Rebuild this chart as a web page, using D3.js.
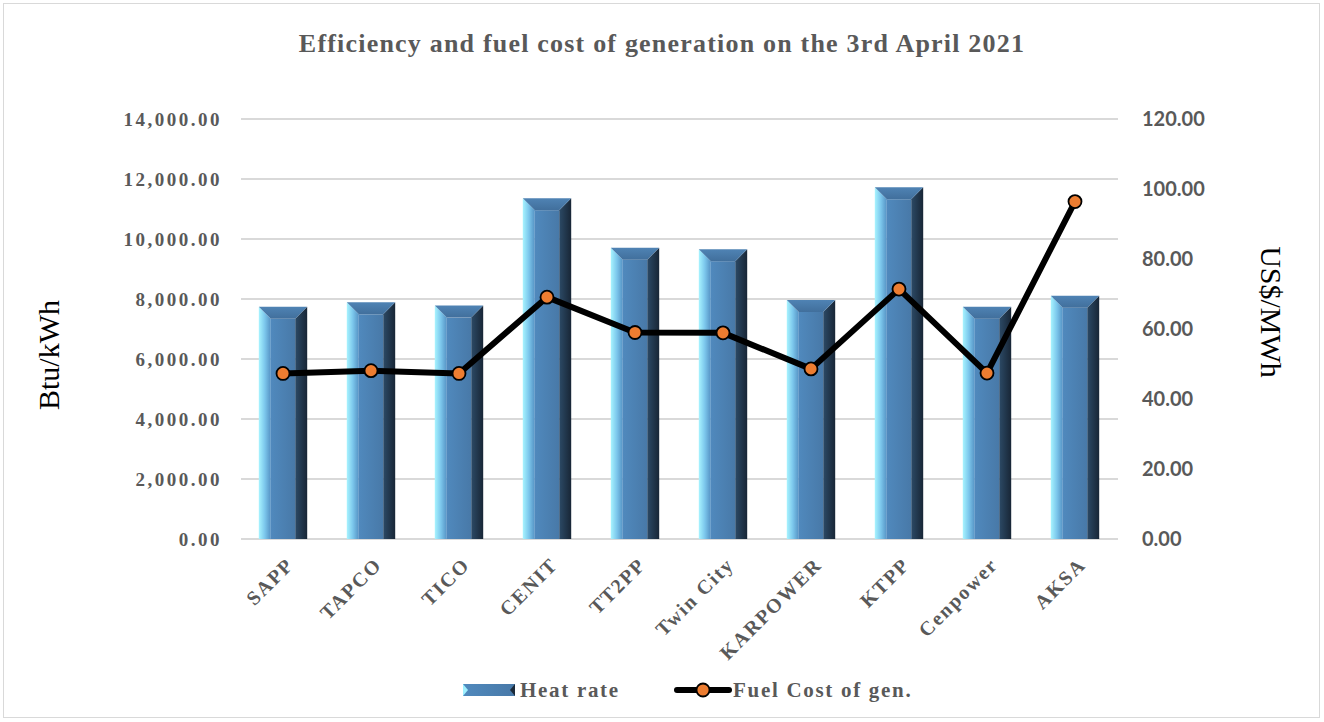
<!DOCTYPE html>
<html><head><meta charset="utf-8">
<script src="https://cdn.jsdelivr.net/npm/d3@7"></script>
<style>
body{margin:0;background:#fff;}
svg{display:block;}
</style></head>
<body>
<svg id="chart" width="1324" height="722"></svg>
<script>
const categories = ["SAPP","TAPCO","TICO","CENIT","TT2PP","Twin City","KARPOWER","KTPP","Cenpower","AKSA"];
const heatRate = [7740, 7890, 7780, 11360, 9710, 9660, 7970, 11725, 7745, 8110];
const fuelCost = [47.3, 48.1, 47.3, 69.1, 59.0, 58.9, 48.6, 71.4, 47.4, 96.4];
const leftTicks = [0, 2000, 4000, 6000, 8000, 10000, 12000, 14000];
const rightTicks = [0, 20, 40, 60, 80, 100, 120];
const titleText = "Efficiency and fuel cost of generation on the 3rd April 2021";
const leftTitle = "Btu/kWh";
const rightTitle = "US$/MWh";
const legendLabels = ["Heat rate", "Fuel Cost of gen."];

const svg = d3.select("#chart");
const serif = "'Liberation Serif', 'DejaVu Serif', serif";
const grey = "#595959";

const x = d3.scaleBand().domain(categories).range([239, 1119]).paddingInner(0.45).paddingOuter(0.225);
const yL = d3.scaleLinear().domain([0, 14000]).range([539, 119]);
const yR = d3.scaleLinear().domain([0, 120]).range([539, 119]);

// outer border
svg.append("rect").attr("x",3.5).attr("y",3.5).attr("width",1316).attr("height",714)
  .attr("fill","#fff").attr("stroke","#d9d9d9").attr("stroke-width",1);

const defs = svg.append("defs");
const gL = defs.append("linearGradient").attr("id","gLeft").attr("x1","0").attr("x2","1").attr("y1","0").attr("y2","0");
gL.append("stop").attr("offset","0").attr("stop-color","#a8f4ff");
gL.append("stop").attr("offset","0.5").attr("stop-color","#7cc7ec");
gL.append("stop").attr("offset","1").attr("stop-color","#5592c4");
const gR = defs.append("linearGradient").attr("id","gRight").attr("x1","0").attr("x2","1").attr("y1","0").attr("y2","0");
gR.append("stop").attr("offset","0").attr("stop-color","#2c4a66");
gR.append("stop").attr("offset","1").attr("stop-color","#182636");
const gT = defs.append("linearGradient").attr("id","gTop").attr("x1","0").attr("x2","0").attr("y1","0").attr("y2","1");
gT.append("stop").attr("offset","0").attr("stop-color","#4f83b4");
gT.append("stop").attr("offset","1").attr("stop-color","#416f9c");
const gF = defs.append("linearGradient").attr("id","gFace").attr("x1","0").attr("x2","1").attr("y1","0").attr("y2","0");
gF.append("stop").attr("offset","0").attr("stop-color","#5089bd");
gF.append("stop").attr("offset","1").attr("stop-color","#4879a8");

// gridlines
svg.append("g").selectAll("line").data(leftTicks).join("line")
  .attr("x1",241).attr("x2",1118).attr("y1",d=>yL(d)).attr("y2",d=>yL(d))
  .attr("stroke","#d9d9d9").attr("stroke-width",2);

// left axis labels
svg.append("g").selectAll("text").data(leftTicks).join("text")
  .attr("x",222).attr("y",d=>yL(d)).attr("dy","0.35em").attr("text-anchor","end")
  .attr("font-family",serif).attr("font-weight","bold").attr("font-size",19).attr("letter-spacing",2.5)
  .attr("fill",grey).text(d=>d3.format(",.2f")(d));

// right axis labels
svg.append("g").selectAll("text").data(rightTicks).join("text")
  .attr("x",1142).attr("y",d=>yR(d)).attr("dy","0.36em").attr("text-anchor","start")
  .attr("font-family","Lato, 'Open Sans', sans-serif").attr("font-weight","bold").attr("font-size",20)
  .attr("fill",grey).text(d=>d3.format(".2f")(d));

// bars
const b = 12;
const bars = svg.append("g").selectAll("g").data(categories).join("g");
bars.each(function(c,i){
  const g = d3.select(this);
  const x0 = x(c), w = x.bandwidth(), top = yL(heatRate[i]), bot = yL(0);
  g.append("polygon").attr("points",[[x0,top],[x0+b,top+b],[x0+b,bot],[x0,bot]].join(" ")).attr("fill","url(#gLeft)");
  g.append("polygon").attr("points",[[x0+w,top],[x0+w-b,top+b],[x0+w-b,bot],[x0+w,bot]].join(" ")).attr("fill","url(#gRight)");
  g.append("rect").attr("x",x0+b).attr("y",top+b).attr("width",w-2*b).attr("height",bot-top-b).attr("fill","url(#gFace)");
  g.append("polygon").attr("points",[[x0,top],[x0+w,top],[x0+w-b,top+b],[x0+b,top+b]].join(" ")).attr("fill","url(#gTop)");
});

// category labels
svg.append("g").selectAll("text").data(categories).join("text")
  .attr("transform",d=>`translate(${x(d)+x.bandwidth()/2+12},${566}) rotate(-45)`)
  .attr("text-anchor","end")
  .attr("font-family",serif).attr("font-weight","bold").attr("font-size",20).attr("letter-spacing",1.8)
  .attr("fill",grey).text(d=>d);

// line
const line = d3.line().x((d,i)=>x(categories[i])+x.bandwidth()/2).y(d=>yR(d));
svg.append("path").datum(fuelCost).attr("d",line).attr("fill","none")
  .attr("stroke","#000").attr("stroke-width",6).attr("stroke-linejoin","round");
svg.append("g").selectAll("circle").data(fuelCost).join("circle")
  .attr("cx",(d,i)=>x(categories[i])+x.bandwidth()/2).attr("cy",d=>yR(d)).attr("r",6.5)
  .attr("fill","#ed7d31").attr("stroke","#000").attr("stroke-width",1.8);

// title
svg.append("text").attr("x",662).attr("y",52).attr("text-anchor","middle")
  .attr("font-family",serif).attr("font-weight","bold").attr("font-size",26).attr("letter-spacing",1.2)
  .attr("fill",grey).text(titleText);

// axis titles
svg.append("text").attr("transform","translate(48,355) rotate(-90)").attr("text-anchor","middle").attr("dy","0.35em")
  .attr("font-family",serif).attr("font-size",30).attr("fill","#000").text(leftTitle);
svg.append("text").attr("transform","translate(1271,312) rotate(90)").attr("text-anchor","middle").attr("dy","0.35em")
  .attr("font-family",serif).attr("font-size",30).attr("fill","#000").text(rightTitle);

// legend
const lg = svg.append("g");
const sx = 463, sy = 684, sw = 52, sh = 12;
lg.append("rect").attr("x",sx).attr("y",sy).attr("width",sw).attr("height",sh).attr("fill","url(#gFace)");
lg.append("polygon").attr("points",[[sx,sy],[sx+5,sy+sh/2],[sx,sy+sh]].join(" ")).attr("fill","#9ff0ff");
lg.append("polygon").attr("points",[[sx+sw,sy],[sx+sw-5,sy+sh/2],[sx+sw,sy+sh]].join(" ")).attr("fill","#1b2a3a");
lg.append("text").attr("x",520).attr("y",sy+sh/2).attr("dy","0.35em")
  .attr("font-family",serif).attr("font-weight","bold").attr("font-size",21).attr("letter-spacing",1.7)
  .attr("fill",grey).text(legendLabels[0]);
lg.append("line").attr("x1",677).attr("x2",729).attr("y1",690).attr("y2",690)
  .attr("stroke","#000").attr("stroke-width",6).attr("stroke-linecap","round");
lg.append("circle").attr("cx",703).attr("cy",690).attr("r",6.5).attr("fill","#ed7d31").attr("stroke","#000").attr("stroke-width",1.8);
lg.append("text").attr("x",733).attr("y",690).attr("dy","0.35em")
  .attr("font-family",serif).attr("font-weight","bold").attr("font-size",21).attr("letter-spacing",1.7)
  .attr("fill",grey).text(legendLabels[1]);
</script>
</body></html>
